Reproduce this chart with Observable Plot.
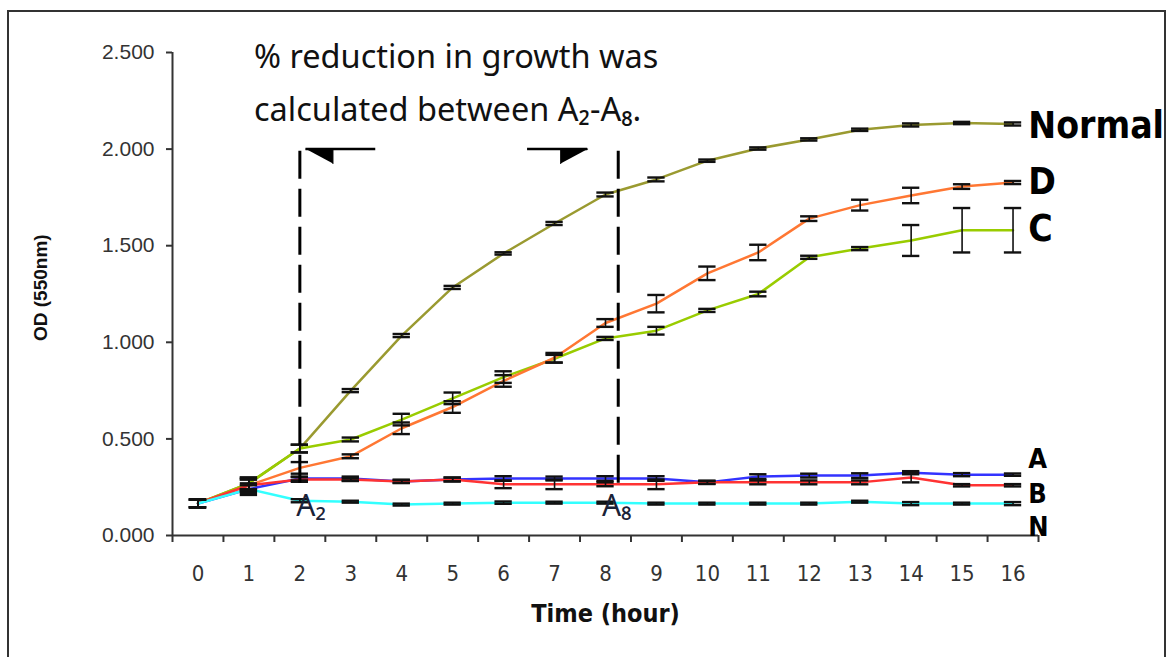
<!DOCTYPE html>
<html><head><meta charset="utf-8">
<script src="https://cdn.jsdelivr.net/npm/d3@7"></script>
<script src="https://cdn.jsdelivr.net/npm/@observablehq/plot@0.6"></script>
<style>
html,body{margin:0;padding:0;background:#fff;overflow:hidden;width:1175px;height:657px}
#frame{position:absolute;left:7px;top:10px;width:1159px;height:700px;border:2px solid #333;box-sizing:border-box}
#chart{position:absolute;left:0;top:0}
</style></head><body>
<div id="frame"></div><div id="chart"></div>
<script>
const hours = [0,1,2,3,4,5,6,7,8,9,10,11,12,13,14,15,16];
const seriesNames = ["Normal","C","D","A","B","N"];
const seriesColors = ["#9a9a30","#99cc00","#ff7733","#3333ff","#ff3333","#33ffff"];
const normalOD = [0.166,0.27,0.45,0.75,1.035,1.284,1.46,1.615,1.765,1.843,1.94,2.003,2.05,2.10,2.125,2.135,2.13];
const normalErr = [0.02,0.03,0.02,0.008,0.008,0.008,0.006,0.008,0.01,0.01,0.006,0.006,0.006,0.006,0.008,0.006,0.008];
const dOD = [0.166,0.26,0.35,0.41,0.555,0.665,0.80,0.92,1.10,1.20,1.357,1.465,1.64,1.71,1.76,1.806,1.827];
const dErr = [0.02,0.03,0.03,0.01,0.03,0.03,0.03,0.025,0.02,0.045,0.035,0.04,0.012,0.028,0.04,0.012,0.008];
const cOD = [0.166,0.27,0.45,0.497,0.60,0.71,0.82,0.915,1.02,1.06,1.165,1.25,1.44,1.485,1.527,1.58,1.58];
const cErr = [0.02,0.03,0.02,0.01,0.03,0.03,0.03,0.02,0.008,0.02,0.008,0.012,0.008,0.008,0.08,0.115,0.115];
const aOD = [0.166,0.24,0.295,0.295,0.28,0.29,0.295,0.295,0.295,0.295,0.275,0.305,0.31,0.31,0.325,0.315,0.315];
const aErr = [0.02,0.03,0.01,0.01,0.008,0.01,0.012,0.01,0.012,0.012,0.008,0.012,0.01,0.012,0.008,0.008,0.006];
const bOD = [0.166,0.26,0.29,0.29,0.28,0.29,0.265,0.265,0.265,0.265,0.275,0.275,0.275,0.275,0.30,0.26,0.26];
const bErr = [0.02,0.03,0.012,0.008,0.008,0.01,0.02,0.025,0.01,0.025,0.008,0.01,0.01,0.01,0.025,0.006,0.006];
const nOD = [0.166,0.24,0.18,0.175,0.16,0.165,0.17,0.17,0.17,0.165,0.165,0.165,0.165,0.175,0.165,0.165,0.165];
const nErr = [0.02,0.02,0.008,0.005,0.005,0.005,0.006,0.005,0.005,0.005,0.005,0.005,0.005,0.005,0.008,0.005,0.008];
const yTicks = [0,0.5,1,1.5,2,2.5];
const xBoundaries = [-0.5,0.5,1.5,2.5,3.5,4.5,5.5,6.5,7.5,8.5,9.5,10.5,11.5,12.5,13.5,14.5,15.5,16.5];
const topLabels = ["Normal","D","C"];
const topLabelY = [2.117,1.827,1.584];
const lowLabels = ["A","B","N"];
const lowLabelY = [0.395,0.215,0.04];
const bracketX = [2,8.25];
const noteLines = ["% reduction in growth was","calculated between A\u2082-A\u2088."];
const noteLineY = [2.474,2.200];
const markerLabels = ["A\u2082","A\u2088"];
const markerX = [1.93,7.93];

const values = {Normal:normalOD, C:cOD, D:dOD, A:aOD, B:bOD, N:nOD};
const errors = {Normal:normalErr, C:cErr, D:dErr, A:aErr, B:bErr, N:nErr};
const rows = [];
seriesNames.forEach((s) => hours.forEach((h,i) => rows.push({series:s, hour:h, value:values[s][i], err:errors[s][i]})));

const arrows = [{x1:2.12,x2:3.49,y:2.0},{x1:6.47,x2:7.65,y:2.0}];
const heads = [
  {k:0,x:2.12,y:2.0},{k:0,x:2.65,y:2.0},{k:0,x:2.65,y:1.925},
  {k:1,x:7.65,y:2.0},{k:1,x:7.12,y:2.0},{k:1,x:7.12,y:1.925}
];
const narrow = "'Liberation Sans Narrow','DejaVu Sans Condensed',sans-serif";

const marks = [];
seriesNames.forEach((s,i) => {
  marks.push(Plot.line(rows.filter(d => d.series === s), {x:"hour", y:"value", stroke:seriesColors[i], strokeWidth:2.5}));
});
marks.push(
  Plot.ruleX(rows, {x:"hour", y1:d => d.value - d.err, y2:d => d.value + d.err, stroke:"#111", strokeWidth:1.6}),
  Plot.ruleY(rows, {y:d => d.value + d.err, x1:d => d.hour - 0.17, x2:d => d.hour + 0.17, stroke:"#111", strokeWidth:2.4}),
  Plot.ruleY(rows, {y:d => d.value - d.err, x1:d => d.hour - 0.17, x2:d => d.hour + 0.17, stroke:"#111", strokeWidth:2.4}),
  Plot.ruleX(bracketX, {x:d => d, y1:0.27, y2:1.99, stroke:"#000", strokeWidth:3, strokeDasharray:"28,10"}),
  Plot.ruleY(arrows, {x1:"x1", x2:"x2", y:"y", stroke:"#000", strokeWidth:2.5}),
  Plot.line(heads, {x:"x", y:"y", z:"k", fill:"#000", stroke:"#000", strokeWidth:1}),
  Plot.ruleY([0], {stroke:"#333", strokeWidth:2}),
  Plot.ruleX([-0.5], {stroke:"#333", strokeWidth:2}),
  Plot.axisY({ticks:yTicks, tickFormat:d3.format(".3f"), tickSize:6, tickPadding:12, fontSize:21, label:null, stroke:"#333", strokeWidth:2}),
  Plot.axisX({ticks:xBoundaries, tickFormat:() => "", tickSize:7, label:null, stroke:"#333", strokeWidth:2}),
  Plot.axisX({ticks:hours, tickSize:0, tickPadding:30, fontSize:22, label:null, fontFamily:narrow}),
  Plot.text(["Time (hour)"], {frameAnchor:"bottom", dy:86, fontSize:25, fontWeight:"bold", fontFamily:narrow, fill:"#111"}),
  Plot.text(["OD (550nm)"], {frameAnchor:"left", rotate:-90, dx:-132, dy:47, fontSize:19, fontWeight:"bold", fill:"#111"}),
  Plot.text(topLabels, {x:16.3, y:(d,i) => topLabelY[i], text:d => d, textAnchor:"start", fontSize:37, fontWeight:"bold", fontFamily:narrow, fill:"#000"}),
  Plot.text(lowLabels, {x:16.3, y:(d,i) => lowLabelY[i], text:d => d, textAnchor:"start", fontSize:27, fontWeight:"bold", fontFamily:narrow, fill:"#000"}),
  Plot.text(noteLines, {x:1.1, y:(d,i) => noteLineY[i], text:d => d, textAnchor:"start", fontSize:32.5, fontFamily:"'Noto Sans','Open Sans',sans-serif", fill:"#111"}),
  Plot.text(markerLabels, {x:(d,i) => markerX[i], y:0.15, text:d => d, textAnchor:"start", fontSize:30, fontFamily:"'Noto Sans','DejaVu Sans',sans-serif", fill:"#1a2238"})
);

const chart = Plot.plot({
  width:1175, height:657,
  marginLeft:172, marginRight:137, marginTop:52, marginBottom:122,
  style:{fontFamily:"'Liberation Sans',Arial,sans-serif", color:"#333", background:"transparent"},
  x:{domain:[-0.5,16.5], axis:null},
  y:{domain:[0,2.5], axis:null},
  marks
});
document.getElementById("chart").appendChild(chart);
</script>
</body></html>
